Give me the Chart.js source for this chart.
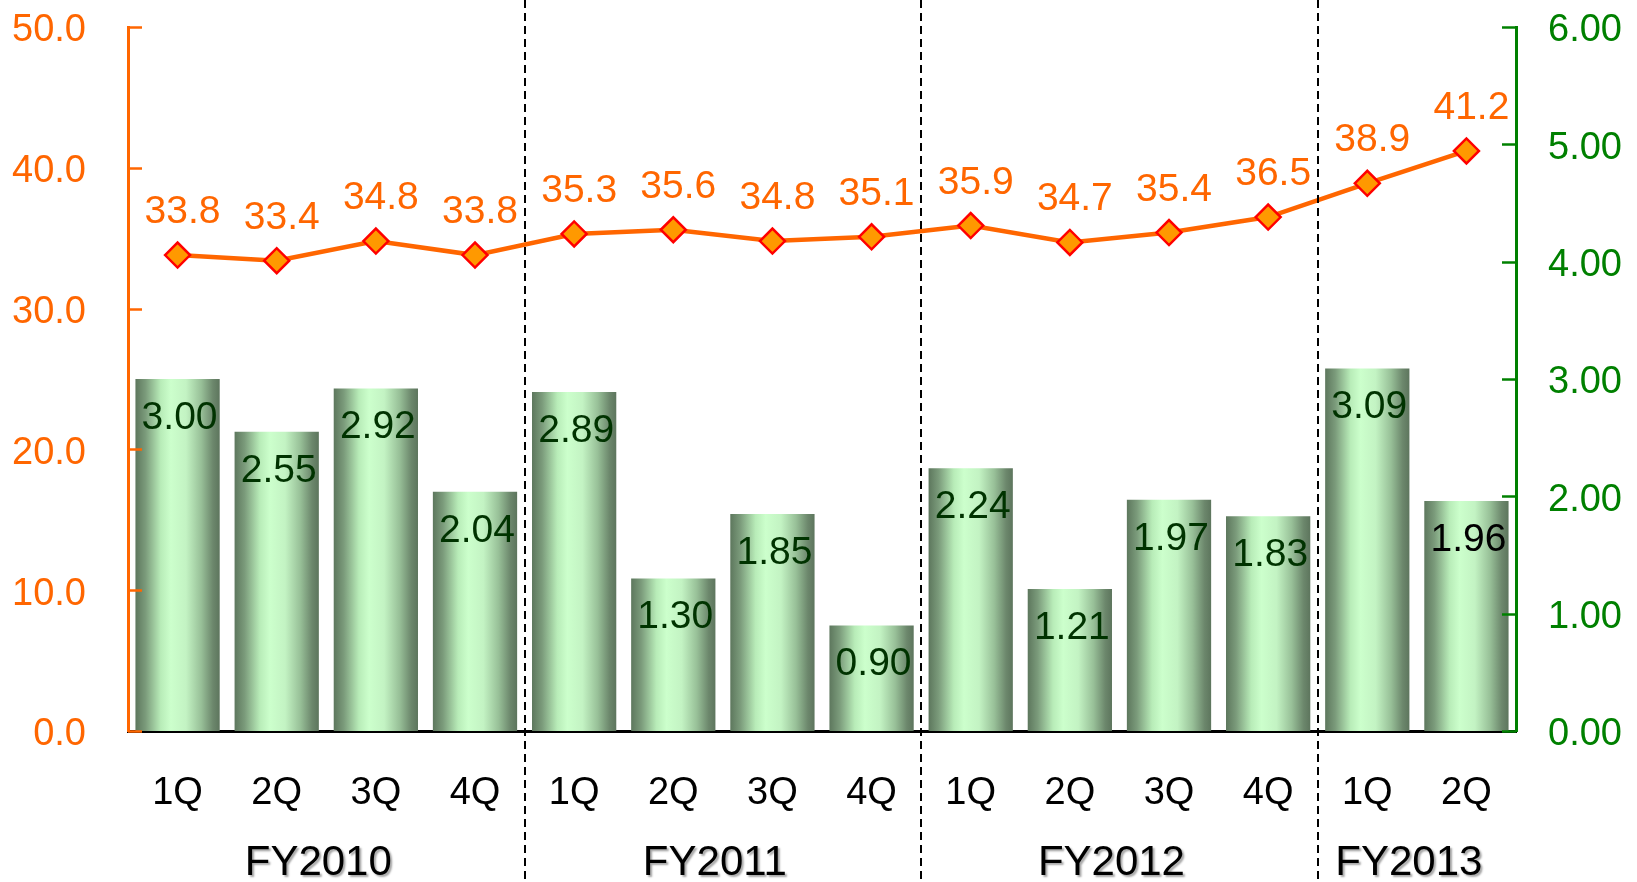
<!DOCTYPE html>
<html>
<head>
<meta charset="utf-8">
<script src="https://cdn.jsdelivr.net/npm/chart.js@4.4.1/dist/chart.umd.min.js"></script>
<style>
  html, body { margin: 0; padding: 0; background: #ffffff; }
  #wrap { width: 1637px; height: 882px; }
</style>
</head>
<body>
<div id="wrap"><canvas id="c" width="1637" height="882"></canvas></div>
<script>
// Quarter labels along the x axis and the fiscal year each quarter belongs to
const quarters = ['1Q', '2Q', '3Q', '4Q', '1Q', '2Q', '3Q', '4Q', '1Q', '2Q', '3Q', '4Q', '1Q', '2Q'];
const fiscalYears = ['FY2010', 'FY2010', 'FY2010', 'FY2010',
                     'FY2011', 'FY2011', 'FY2011', 'FY2011',
                     'FY2012', 'FY2012', 'FY2012', 'FY2012',
                     'FY2013', 'FY2013'];

// Line series (left axis)
const lineValues = [33.8, 33.4, 34.8, 33.8, 35.3, 35.6, 34.8, 35.1, 35.9, 34.7, 35.4, 36.5, 38.9, 41.2];
// Bar series (right axis)
const barValues = [3.00, 2.55, 2.92, 2.04, 2.89, 1.30, 1.85, 0.90, 2.24, 1.21, 1.97, 1.83, 3.09, 1.96];

// Axis tick values
const leftTicks = [0, 10, 20, 30, 40, 50];
const rightTicks = [0, 1, 2, 3, 4, 5, 6];

const FONT = '"Liberation Sans", Arial, Helvetica, sans-serif';
const ORANGE = '#FF6600';
const GREEN = '#008000';
const BAR_PCT = 0.85;

// Cylinder-like horizontal shading for each bar
function barFill(c) {
  const chart = c.chart;
  const xs = chart.scales && chart.scales.x;
  if (!xs || c.dataIndex === undefined || !xs.width) return '#a8d8a8';
  const cx = xs.getPixelForValue(c.dataIndex);
  const w = xs.width / quarters.length * BAR_PCT;
  const g = chart.ctx.createLinearGradient(cx - w / 2, 0, cx + w / 2, 0);
  g.addColorStop(0.00, '#5d775d');
  g.addColorStop(0.12, '#7b9b7b');
  g.addColorStop(0.30, '#b8ecb8');
  g.addColorStop(0.42, '#ccffcc');
  g.addColorStop(0.60, '#c3f3c3');
  g.addColorStop(0.78, '#98c098');
  g.addColorStop(0.92, '#6c876c');
  g.addColorStop(1.00, '#5d755d');
  return g;
}

// Value label colours for the bars (the last one is printed in black)
const barLabelColors = barValues.map((v, i) => i === barValues.length - 1 ? '#000000' : '#003300');

// Vertical axes keep the plot edge flush with the top/bottom tick
function noEdgePadding(s) {
  s.paddingTop = 0;
  s.paddingBottom = 0;
}

const decorations = {
  id: 'decorations',
  afterDatasetsDraw(chart) {
    const { ctx } = chart;
    const xs = chart.scales.x, yl = chart.scales.y, yr = chart.scales.y1;
    ctx.save();

    // inward tick marks on both value axes
    ctx.lineWidth = 2.5;
    ctx.strokeStyle = ORANGE;
    leftTicks.forEach(v => {
      const py = Math.round(yl.getPixelForValue(v)) + 0.5;
      ctx.beginPath(); ctx.moveTo(yl.right, py); ctx.lineTo(yl.right + 14, py); ctx.stroke();
    });
    ctx.strokeStyle = GREEN;
    rightTicks.forEach(v => {
      const py = Math.round(yr.getPixelForValue(v)) + 0.5;
      ctx.beginPath(); ctx.moveTo(yr.left, py); ctx.lineTo(yr.left - 14, py); ctx.stroke();
    });

    // value labels
    ctx.font = '39px ' + FONT;
    ctx.textAlign = 'center';
    ctx.textBaseline = 'alphabetic';
    const lineMeta = chart.getDatasetMeta(0);
    lineMeta.data.forEach((pt, i) => {
      ctx.fillStyle = ORANGE;
      ctx.fillText(lineValues[i].toFixed(1), pt.x + 5, pt.y - 32);
    });
    const barMeta = chart.getDatasetMeta(1);
    barMeta.data.forEach((bar, i) => {
      ctx.fillStyle = barLabelColors[i];
      ctx.fillText(barValues[i].toFixed(2), bar.x + 2, bar.y + 50);
    });

    // dashed separators between fiscal years
    ctx.strokeStyle = '#000000';
    ctx.lineWidth = 2;
    ctx.setLineDash([8, 5]);
    for (let i = 1; i < fiscalYears.length; i++) {
      if (fiscalYears[i] !== fiscalYears[i - 1]) {
        const sx = Math.round((xs.getPixelForValue(i - 1) + xs.getPixelForValue(i)) / 2);
        ctx.beginPath(); ctx.moveTo(sx, 0); ctx.lineTo(sx, chart.height); ctx.stroke();
      }
    }
    ctx.setLineDash([]);

    // fiscal year group labels
    ctx.font = '42px ' + FONT;
    ctx.fillStyle = '#000000';
    ctx.shadowColor = 'rgba(0,0,0,0.35)';
    ctx.shadowOffsetX = 2;
    ctx.shadowOffsetY = 2;
    ctx.shadowBlur = 2;
    let start = 0;
    for (let i = 1; i <= fiscalYears.length; i++) {
      if (i === fiscalYears.length || fiscalYears[i] !== fiscalYears[start]) {
        const cx = (xs.getPixelForValue(start) + xs.getPixelForValue(i - 1)) / 2 - 8;
        ctx.fillText(fiscalYears[start], cx, 875);
        start = i;
      }
    }
    ctx.restore();
  }
};

new Chart(document.getElementById('c'), {
  data: {
    labels: quarters,
    datasets: [
      {
        type: 'line',
        data: lineValues,
        yAxisID: 'y',
        borderColor: ORANGE,
        borderWidth: 4.5,
        tension: 0,
        pointStyle: 'rectRot',
        pointRadius: 12.5,
        pointBackgroundColor: '#FF9900',
        pointBorderColor: '#FF0000',
        pointBorderWidth: 2.5,
        order: 0,
        clip: false
      },
      {
        type: 'bar',
        data: barValues,
        yAxisID: 'y1',
        backgroundColor: barFill,
        borderWidth: 0,
        categoryPercentage: 1,
        barPercentage: BAR_PCT,
        order: 1
      }
    ]
  },
  options: {
    responsive: false,
    animation: false,
    devicePixelRatio: 1,
    layout: { padding: { top: 27, left: 0, right: 0, bottom: 0 } },
    plugins: { legend: { display: false }, tooltip: { enabled: false } },
    scales: {
      x: {
        grid: { display: false, drawTicks: false },
        border: { display: true, color: '#000000', width: 3 },
        ticks: { color: '#000000', font: { family: FONT, size: 38 }, padding: 40, maxRotation: 0, autoSkip: false },
        afterFit(s) { s.height = 151; }
      },
      y: {
        position: 'left',
        min: 0, max: 50,
        grid: { display: false, drawTicks: false },
        border: { display: true, color: ORANGE, width: 3 },
        ticks: { color: ORANGE, font: { family: FONT, size: 38 }, padding: 42, labelOffset: 4, callback: v => Number(v).toFixed(1) },
        afterBuildTicks(s) { s.ticks = leftTicks.map(v => ({ value: v })); },
        afterFit(s) { s.width = 128; noEdgePadding(s); }
      },
      y1: {
        position: 'right',
        min: 0, max: 6,
        grid: { display: false, drawTicks: false },
        border: { display: true, color: GREEN, width: 3 },
        ticks: { color: GREEN, font: { family: FONT, size: 38 }, padding: 32, labelOffset: 4, callback: v => Number(v).toFixed(2) },
        afterBuildTicks(s) { s.ticks = rightTicks.map(v => ({ value: v })); },
        afterFit(s) { s.width = 121; noEdgePadding(s); }
      }
    }
  },
  plugins: [decorations]
});
</script>
</body>
</html>
